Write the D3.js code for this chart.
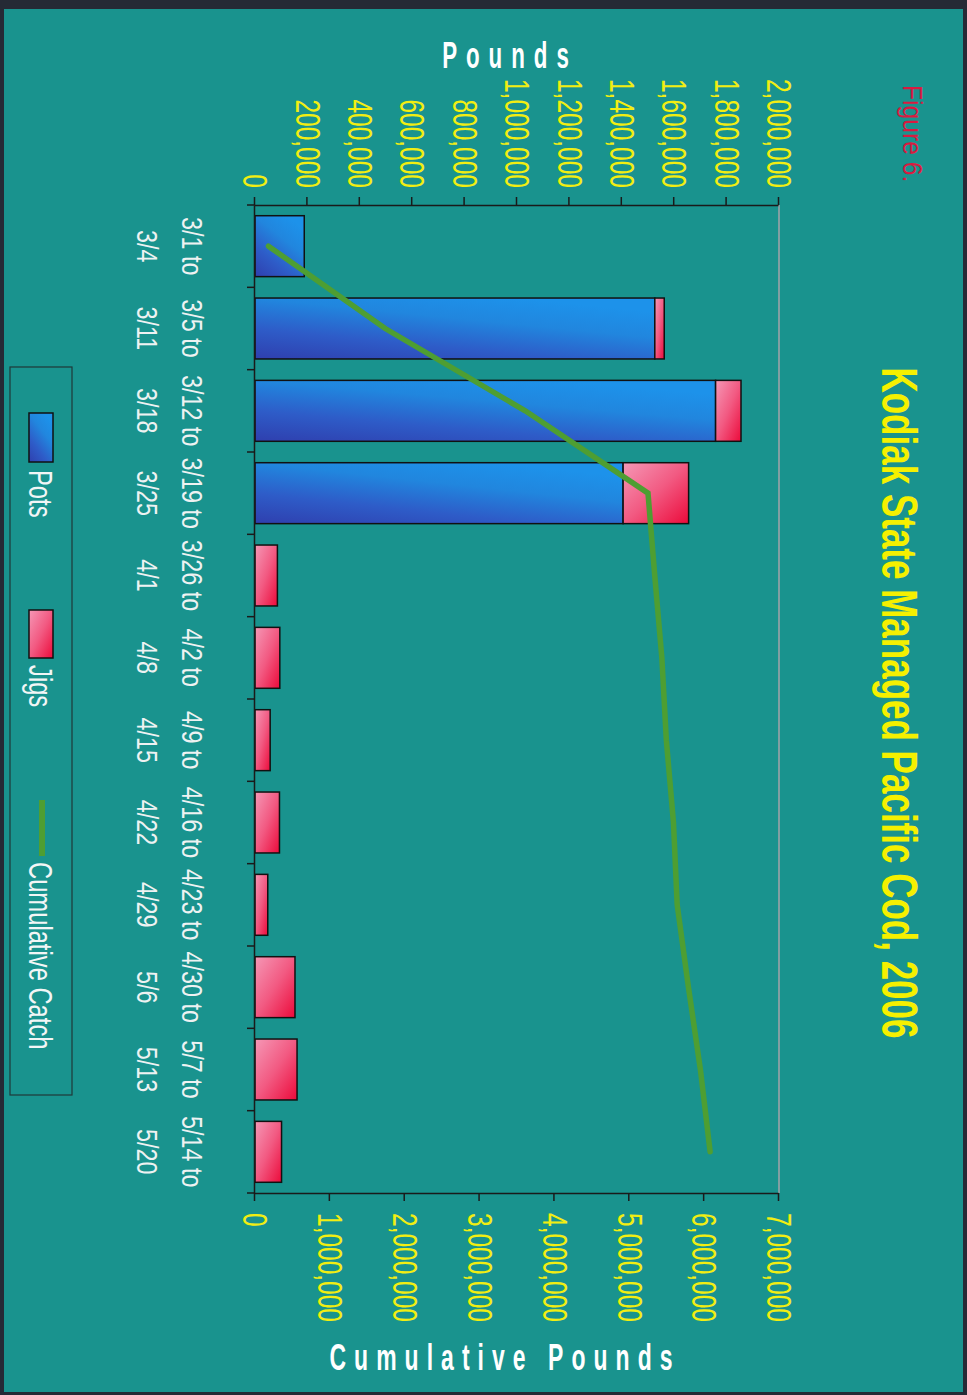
<!DOCTYPE html>
<html>
<head>
<meta charset="utf-8">
<script src="https://cdnjs.cloudflare.com/ajax/libs/d3/7.8.5/d3.min.js"></script>
<style>
  html, body { margin: 0; padding: 0; background: #252a35; }
  svg { display: block; }
  text { font-family: "Liberation Sans", Arial, sans-serif; }
</style>
</head>
<body>
<svg id="chart" width="967" height="1395"></svg>
<script>
// ---------------- DATA ----------------
const catLine1 = ["3/1 to","3/5 to","3/12 to","3/19 to","3/26 to","4/2 to","4/9 to","4/16 to","4/23 to","4/30 to","5/7 to","5/14 to"];
const catLine2 = ["3/4","3/11","3/18","3/25","4/1","4/8","4/15","4/22","4/29","5/6","5/13","5/20"];
const pots = [188000, 1526000, 1758000, 1405000, 0, 0, 0, 0, 0, 0, 0, 0];
const jigs = [0, 36000, 97000, 250000, 85500, 94700, 57900, 93400, 48700, 152600, 160500, 101300];
const cumulative = [180000, 1740000, 3610000, 5250000, 5340000, 5435000, 5495000, 5590000, 5640000, 5790000, 5950000, 6080000];
const poundTicks = [0, 200000, 400000, 600000, 800000, 1000000, 1200000, 1400000, 1600000, 1800000, 2000000];
const cumTicks = [0, 1000000, 2000000, 3000000, 4000000, 5000000, 6000000, 7000000];
const titleText = "Kodiak State Managed Pacific Cod, 2006";
const figureText = "Figure 6.";
const leftTitle = "Pounds";
const rightTitle = "Cumulative Pounds";
const legendItems = ["Pots", "Jigs", "Cumulative Catch"];

// ---------------- SETUP ----------------
const svg = d3.select("#chart");
const fmt = d3.format(",");

const defs = svg.append("defs");
const gPots = defs.append("linearGradient").attr("id", "gPots")
  .attr("x1", 1).attr("y1", 1).attr("x2", 0).attr("y2", 0.35);
gPots.append("stop").attr("offset", 0).attr("stop-color", "#2f3fae");
gPots.append("stop").attr("offset", 0.35).attr("stop-color", "#2e5cc8");
gPots.append("stop").attr("offset", 0.7).attr("stop-color", "#2186de");
gPots.append("stop").attr("offset", 1).attr("stop-color", "#1d92ea");
const gJigs = defs.append("linearGradient").attr("id", "gJigs")
  .attr("x1", 0).attr("y1", 1).attr("x2", 1).attr("y2", 0);
gJigs.append("stop").attr("offset", 0).attr("stop-color", "#f598b6");
gJigs.append("stop").attr("offset", 0.5).attr("stop-color", "#f25a82");
gJigs.append("stop").attr("offset", 1).attr("stop-color", "#ec0a3a");

// page background
svg.append("rect").attr("x", 0).attr("y", 0).attr("width", 967).attr("height", 1395).attr("fill", "#252a35");
svg.append("rect").attr("x", 4).attr("y", 9).attr("width", 959).attr("height", 1383).attr("fill", "#19938e");

// landscape group, rotated 90deg clockwise
const g = svg.append("g").attr("transform", "translate(967,0) rotate(90)");

const X0 = 205, X1 = 1193, Ytop = 188, Ybot = 712;

const idx = d3.range(catLine1.length);
const x = d3.scaleBand().domain(idx).range([X0, X1]).paddingInner(0.26).paddingOuter(0.13);
const yL = d3.scaleLinear().domain([0, 2000000]).range([Ybot, Ytop]);
const yR = d3.scaleLinear().domain([0, 7000000]).range([Ybot, Ytop]);

function squeeze(sel, s) {
  sel.each(function () {
    const len = this.getComputedTextLength();
    d3.select(this).attr("textLength", len * s).attr("lengthAdjust", "spacingAndGlyphs");
  });
}

// plot frame top (gray)
g.append("line").attr("x1", X0).attr("x2", X1).attr("y1", Ytop).attr("y2", Ytop)
  .attr("stroke", "#a3a3a8").attr("stroke-width", 1.5);

// bars
const bw = x.bandwidth();
g.append("g").selectAll("rect").data(idx.filter(i => pots[i] > 0)).join("rect")
  .attr("x", i => x(i)).attr("width", bw)
  .attr("y", i => yL(pots[i])).attr("height", i => yL(0) - yL(pots[i]))
  .attr("fill", "url(#gPots)").attr("stroke", "#111").attr("stroke-width", 1.5);
g.append("g").selectAll("rect").data(idx.filter(i => jigs[i] > 0)).join("rect")
  .attr("x", i => x(i)).attr("width", bw)
  .attr("y", i => yL(pots[i] + jigs[i])).attr("height", i => yL(pots[i]) - yL(pots[i] + jigs[i]))
  .attr("fill", "url(#gJigs)").attr("stroke", "#111").attr("stroke-width", 1.5);

// cumulative line
const line = d3.line().x(i => x(i) + bw / 2).y(i => yR(cumulative[i]));
g.append("path").datum(idx).attr("d", line)
  .attr("fill", "none").attr("stroke", "#4e9e32").attr("stroke-width", 5.5)
  .attr("stroke-linejoin", "miter").attr("stroke-linecap", "round");

// left axis (Pounds)
const axL = g.append("g").attr("transform", `translate(${X0},0)`)
  .call(d3.axisLeft(yL).tickValues(poundTicks).tickFormat(fmt).tickSize(8).tickSizeOuter(0).tickPadding(9));
// right axis (Cumulative)
const axR = g.append("g").attr("transform", `translate(${X1},0)`)
  .call(d3.axisRight(yR).tickValues(cumTicks).tickFormat(fmt).tickSize(8).tickSizeOuter(0).tickPadding(12));
[axL, axR].forEach(ax => {
  ax.select(".domain").attr("stroke", "#1a1a1a").attr("stroke-width", 1.5);
  ax.selectAll(".tick line").attr("stroke", "#1a1a1a").attr("stroke-width", 1.5);
  ax.selectAll(".tick text").attr("fill", "#f2ee12").attr("font-size", 35)
    .style("font-family", "'Liberation Sans', Arial, sans-serif");
  squeeze(ax.selectAll(".tick text"), 0.7);
});

// category axis
const axB = g.append("g").attr("transform", `translate(0,${Ybot})`)
  .call(d3.axisBottom(x).tickSize(0).tickSizeOuter(0).tickFormat(""));
axB.select(".domain").attr("stroke", "#1a1a1a").attr("stroke-width", 1.5);
const step = x.step();
const bounds = idx.map(i => x(i) - (step - bw) / 2).concat([X1]);
g.append("g").selectAll("line").data(bounds).join("line")
  .attr("x1", d => d).attr("x2", d => d).attr("y1", Ybot).attr("y2", Ybot + 8)
  .attr("stroke", "#1a1a1a").attr("stroke-width", 1.5);
const cl1 = g.append("g").selectAll("text").data(idx).join("text")
  .attr("x", i => x(i) + bw / 2).attr("y", 785)
  .attr("text-anchor", "middle").attr("font-size", 30).attr("fill", "#eef2f2")
  .text(i => catLine1[i]);
const cl2 = g.append("g").selectAll("text").data(idx).join("text")
  .attr("x", i => x(i) + bw / 2).attr("y", 830)
  .attr("text-anchor", "middle").attr("font-size", 30).attr("fill", "#eef2f2")
  .text(i => catLine2[i]);
squeeze(cl1, 0.78);
squeeze(cl2, 0.78);

// axis titles
g.append("text").attr("transform", "translate(68,457) rotate(-90) scale(0.62,1)")
  .attr("text-anchor", "middle").attr("font-size", 36).attr("font-weight", "bold")
  .attr("letter-spacing", 14.5).attr("fill", "#ffffff").text(leftTitle);
g.append("text").attr("transform", "translate(1370,462) rotate(-90) scale(0.62,1)")
  .attr("text-anchor", "middle").attr("font-size", 37).attr("font-weight", "bold")
  .attr("letter-spacing", 13).attr("fill", "#ffffff").text(rightTitle);

// title
const t = g.append("text").attr("x", 703).attr("y", 85).attr("text-anchor", "middle")
  .attr("font-size", 50).attr("font-weight", "bold").attr("fill", "#f5f000").text(titleText);
squeeze(t, 0.70);
const f = g.append("text").attr("x", 85).attr("y", 64)
  .attr("font-size", 28).attr("fill", "#d81a40").text(figureText);
squeeze(f, 0.88);

// legend
const lg = g.append("g");
lg.append("rect").attr("x", 367).attr("y", 895).attr("width", 728).attr("height", 62)
  .attr("fill", "none").attr("stroke", "#1f3838").attr("stroke-width", 1.2);
lg.append("rect").attr("x", 413).attr("y", 914).attr("width", 49).attr("height", 24)
  .attr("fill", "url(#gPots)").attr("stroke", "#111").attr("stroke-width", 1.5);
lg.append("rect").attr("x", 610).attr("y", 914).attr("width", 48).attr("height", 24)
  .attr("fill", "url(#gJigs)").attr("stroke", "#111").attr("stroke-width", 1.5);
lg.append("line").attr("x1", 800).attr("x2", 856).attr("y1", 925).attr("y2", 925)
  .attr("stroke", "#4e9e32").attr("stroke-width", 6);
const lx = [470, 665, 862];
const lt = lg.selectAll("text.leg").data(legendItems).join("text").attr("class", "leg")
  .attr("x", (d, i) => lx[i]).attr("y", 938).attr("font-size", 33).attr("fill", "#f2f6f6")
  .text(d => d);
squeeze(lt, 0.72);
</script>
</body>
</html>
